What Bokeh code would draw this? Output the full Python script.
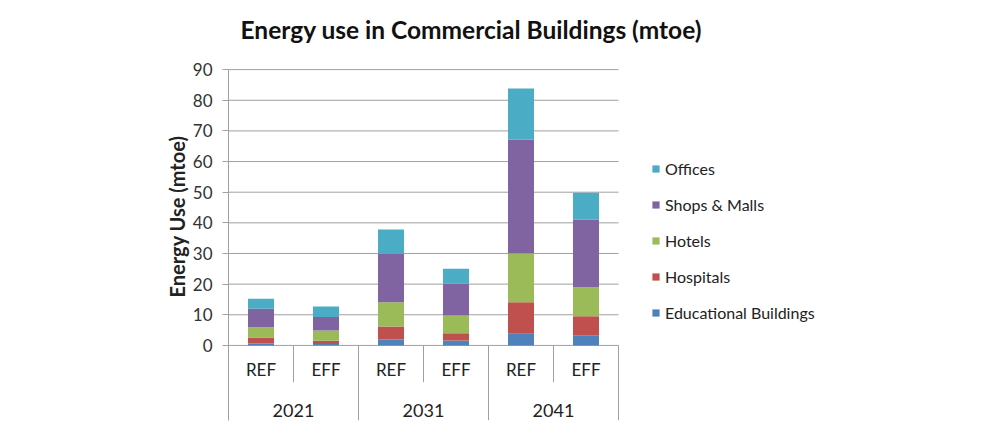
from bokeh.plotting import figure
from bokeh.models import (FactorRange, Range1d, FixedTicker, Legend, LegendItem,
                          ColumnDataSource, Title)
from bokeh.core.properties import value
from bokeh.embed import file_html
from bokeh.resources import INLINE

# ---------------- data ----------------
years = ["2021", "2031", "2041"]
scenarios = ["REF", "EFF"]
series_names = ["Educational Buildings", "Hospitals", "Hotels", "Shops & Malls", "Offices"]
series_keys = ["edu", "hosp", "hotels", "shops", "offices"]
colors = ["#4F81BD", "#C0504D", "#9BBB59", "#8064A2", "#4BACC6"]

educational = [0.6, 0.5, 1.9, 1.6, 3.8, 3.3]
hospitals = [2.0, 1.0, 4.3, 2.4, 10.3, 6.2]
hotels = [3.3, 3.4, 7.9, 5.8, 16.0, 9.5]
shops = [6.1, 4.4, 15.8, 10.3, 37.0, 22.0]
offices = [3.2, 3.4, 7.9, 4.9, 16.7, 8.8]

y_ticks = [0, 10, 20, 30, 40, 50, 60, 70, 80, 90]

title_text = "Energy use in Commercial Buildings (mtoe)"
y_label = "Energy Use (mtoe)"

# ---------------- figure ----------------
factors = [(y, s) for y in years for s in scenarios]
# empty room on the right of the categories, used by the legend
pad_factors = [("_pad", str(i)) for i in range(4)]
src = ColumnDataSource(dict(x=factors, edu=educational, hosp=hospitals,
                            hotels=hotels, shops=shops, offices=offices))

FONT = "Lato"
Y_BOTTOM = -24.5
Y_TOP = 93.3
SUB_DEPTH = -12.0
SUB_LABEL_Y = -7.7
GROUP_LABEL_Y = -21.2
GRAY = "#a0a0a0"

p = figure(x_range=FactorRange(*(factors + pad_factors), factor_padding=0,
                               subgroup_padding=0, group_padding=0, range_padding=0),
           y_range=Range1d(Y_BOTTOM, Y_TOP),
           width=992, height=422, output_backend="svg", toolbar_location=None,
           x_axis_location=None,
           min_border_left=228, min_border_right=114, min_border_top=59,
           min_border_bottom=2)

p.outline_line_color = None
p.xgrid.visible = False
p.ygrid.visible = False

ax = p.yaxis[0]
ax.ticker = FixedTicker(ticks=y_ticks)
ax.bounds = (Y_BOTTOM, y_ticks[-1])
ax.axis_line_color = GRAY
ax.major_tick_line_color = GRAY
ax.major_tick_out = 6
ax.major_tick_in = 0
ax.minor_tick_line_color = None
ax.major_label_text_font = FONT
ax.major_label_text_font_size = "17px"
ax.major_label_text_color = "#333333"
ax.major_label_standoff = 10

# y axis title (left panel title so it can be shifted along the axis)
ytitle = Title(text=y_label, text_font=FONT, text_font_style="bold",
               text_font_size="20px", text_color="#222222",
               align="left", offset=123, standoff=2)
p.add_layout(ytitle, "left")

# horizontal gridlines (incl. zero line) spanning only the categories
gx0 = (factors[0][0], factors[0][1], -0.5)
gx1 = (factors[-1][0], factors[-1][1], 0.5)
p.segment(x0=[gx0] * len(y_ticks), x1=[gx1] * len(y_ticks), y0=y_ticks, y1=y_ticks,
          line_color=GRAY, line_width=1)

# stacked bars
renderers = p.vbar_stack(series_keys, x="x", width=0.4, color=colors,
                         line_color=None, source=src)

# category separators (computed from factor boundaries)
sub_sep = [(y, scenarios[0], 0.5) for y in years]
p.segment(x0=sub_sep, x1=sub_sep, y0=0, y1=SUB_DEPTH, line_color=GRAY, line_width=1)
grp_sep = [(y, scenarios[0], -0.5) for y in years] + [(years[-1], scenarios[-1], 0.5)]
p.segment(x0=grp_sep, x1=grp_sep, y0=0, y1=Y_BOTTOM, line_color=GRAY, line_width=1)

# category labels
p.text(x=factors, y=SUB_LABEL_Y, text=[f[1] for f in factors],
       text_font=value(FONT), text_font_size="17px", text_color="#222222",
       text_align="center", text_baseline="middle")
grp_x = [(y, scenarios[0], 0.5) for y in years]
p.text(x=grp_x, y=GROUP_LABEL_Y, text=years,
       text_font=value(FONT), text_font_size="18px", text_color="#222222",
       text_align="center", text_baseline="middle")

# legend (top to bottom: Offices ... Educational)
items = [LegendItem(label=n, renderers=[r]) for n, r in zip(series_names, renderers)][::-1]
legend = Legend(items=items, location=(423, 98), border_line_color=None,
                background_fill_alpha=0, glyph_width=9, glyph_height=9,
                label_text_font=FONT, label_text_font_size="16px",
                label_text_color="#222222", label_height=20,
                spacing=16, padding=0, margin=0, label_standoff=5)
p.add_layout(legend)

# title
p.title.text = title_text
p.title.text_font = FONT
p.title.text_font_style = "bold"
p.title.text_font_size = "24.5px"
p.title.text_color = "#111111"
p.title.align = "left"
p.title.offset = 12
p.title.vertical_align = "top"
p.title.standoff = 28

open("out.html", "w").write(file_html(p, INLINE))
